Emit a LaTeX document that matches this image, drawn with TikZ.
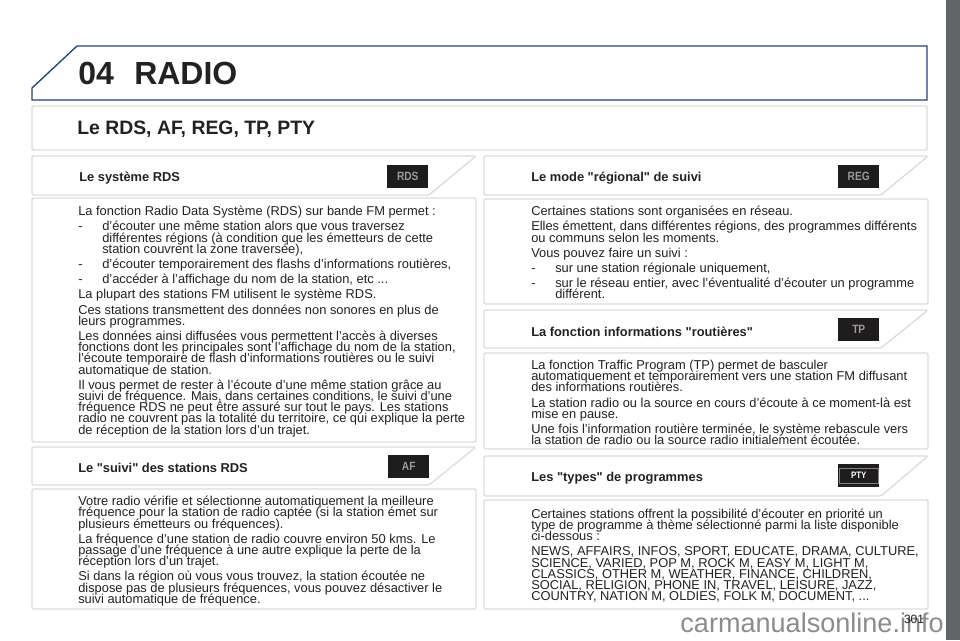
\documentclass[tikz,border=0pt]{standalone}
\usepackage{fontspec}
\setmainfont{Liberation Sans}[Ligatures=TeXOff]
\newfontfamily\badgefont{Liberation Sans}[FakeStretch=0.85]
\definecolor{panelline}{HTML}{DCDCDC}
\definecolor{navy}{HTML}{1F4480}
\definecolor{sidebar}{HTML}{636466}
\definecolor{ink}{HTML}{222222}
\definecolor{badgefill}{HTML}{1E1C1D}
\definecolor{badgetext}{HTML}{9A9A9A}
\newcommand{\tightlines}{\setlength{\lineskiplimit}{-20pt}}
\newcommand{\bodyfont}{\fontsize{9.65}{8.4}\selectfont\tightlines}
\tikzset{
 panel/.style={draw=panelline,line width=1pt,fill=white,rounded corners=1pt},
 bodytext/.style={anchor=north west,inner sep=0pt,text=ink,font=\bodyfont,align=left},
 subhead/.style={anchor=west,inner sep=0pt,text=ink,font=\fontsize{9.65}{10}\selectfont\bfseries},
 badge/.style={fill=badgefill,text=badgetext,font=\badgefont\fontsize{9}{10}\selectfont\bfseries,inner sep=0pt,minimum width=30.75pt,minimum height=17.25pt,anchor=north west},
}
\begin{document}
\begin{tikzpicture}[x=0.75pt,y=-0.75pt]
\useasboundingbox (0,0) rectangle (960,640);
\fill[white] (0,0) rectangle (960,640);
\fill[sidebar] (946,0) rectangle (960,640);
\draw[navy,line width=1pt,fill=white] (77,46) -- (927,46) -- (927,100) -- (32,100) -- (32,88) -- cycle;
\node[anchor=west,inner sep=0pt,text=ink,font=\fontsize{24}{26}\selectfont\bfseries] (num) at (78,73.5) {04};
\node[anchor=west,inner sep=0pt,text=ink,font=\fontsize{24}{26}\selectfont\bfseries] (title) at (134,73.5) {RADIO};
\draw[panel] (32,106) rectangle (927,150);
\node[anchor=west,inner sep=0pt,text=ink,font=\fontsize{14.55}{16}\selectfont\bfseries] (h) at (77,129.5) {Le RDS, AF, REG, TP, PTY};
% left column
\draw[panel] (32,156) -- (476,156) -- (429,195) -- (32,195) -- cycle;
\node[subhead] (a1) at (79,178) {Le système RDS};
\node[badge] (b1) at (387,165) {RDS};
\draw[panel] (32,198) rectangle (476,442);
\node[bodytext] (a2) at (78,206) {La fonction Radio Data Système (RDS) sur bande FM permet :\\[3pt]
\makebox[18pt][l]{-}d’écouter une même station alors que vous traversez\\
\hspace*{18pt}différentes régions (à condition que les émetteurs de cette\\
\hspace*{18pt}station couvrent la zone traversée),\\[3pt]
\makebox[18pt][l]{-}d’écouter temporairement des flashs d’informations routières,\\[3pt]
\makebox[18pt][l]{-}d’accéder à l’affichage du nom de la station, etc ...\\[3pt]
La plupart des stations FM utilisent le système RDS.\\[3pt]
Ces stations transmettent des données non sonores en plus de\\
leurs programmes.\\[3pt]
Les données ainsi diffusées vous permettent l’accès à diverses\\
fonctions dont les principales sont l’affichage du nom de la station,\\
l’écoute temporaire de flash d’informations routières ou le suivi\\
automatique de station.\\[3pt]
Il vous permet de rester à l’écoute d’une même station grâce au\\
suivi de fréquence. Mais, dans certaines conditions, le suivi d’une\\
fréquence RDS ne peut être assuré sur tout le pays. Les stations\\
radio ne couvrent pas la totalité du territoire, ce qui explique la perte\\
de réception de la station lors d’un trajet.};
\draw[panel] (32,447) -- (476,447) -- (429,485) -- (32,485) -- cycle;
\node[subhead] (a3) at (78,468) {Le "suivi" des stations RDS};
\node[badge] (b2) at (388,455) {AF};
\draw[panel] (32,489) rectangle (476,609);
\node[bodytext] (a4) at (78,496) {Votre radio vérifie et sélectionne automatiquement la meilleure\\
fréquence pour la station de radio captée (si la station émet sur\\
plusieurs émetteurs ou fréquences).\\[3pt]
La fréquence d’une station de radio couvre environ 50 kms. Le\\
passage d’une fréquence à une autre explique la perte de la\\
réception lors d’un trajet.\\[3pt]
Si dans la région où vous vous trouvez, la station écoutée ne\\
dispose pas de plusieurs fréquences, vous pouvez désactiver le\\
suivi automatique de fréquence.};
% right column
\draw[panel] (484,156) -- (928,156) -- (881,195) -- (484,195) -- cycle;
\node[subhead] (c1) at (531,178) {Le mode "régional" de suivi};
\node[badge] (d1) at (838,165) {REG};
\draw[panel] (484,199) rectangle (928,304);
\node[bodytext] (c2) at (531,206) {Certaines stations sont organisées en réseau.\\[3pt]
Elles émettent, dans différentes régions, des programmes différents\\
ou communs selon les moments.\\[3pt]
Vous pouvez faire un suivi :\\[3pt]
\makebox[18pt][l]{-}sur une station régionale uniquement,\\[3pt]
\makebox[18pt][l]{-}sur le réseau entier, avec l’éventualité d’écouter un programme\\
\hspace*{18pt}différent.};
\draw[panel] (484,310) -- (928,310) -- (881,348) -- (484,348) -- cycle;
\node[subhead] (c3) at (531,332) {La fonction informations "routières"};
\node[badge] (d2) at (838,318) {TP};
\draw[panel] (484,353) rectangle (928,449);
\node[bodytext] (c4) at (531,360) {La fonction Traffic Program (TP) permet de basculer\\
automatiquement et temporairement vers une station FM diffusant\\
des informations routières.\\[3pt]
La station radio ou la source en cours d’écoute à ce moment-là est\\
mise en pause.\\[3pt]
Une fois l’information routière terminée, le système rebascule vers\\
la station de radio ou la source radio initialement écoutée.};
\draw[panel] (484,456) -- (928,456) -- (881,496) -- (484,496) -- cycle;
\node[subhead] (c5) at (531,478) {Les "types" de programmes};
\node[badge,text=white,font=\badgefont\fontsize{7}{8}\selectfont\bfseries] (d3) at (838,464) {PTY};
\draw[draw=black!50,line width=0.6pt] ([shift={(1.2pt,3pt)}]d3.south west) rectangle ([shift={(-1.2pt,-3pt)}]d3.north east);
\draw[panel] (484,500) rectangle (928,609);
\node[bodytext] (c6) at (531,508.5) {Certaines stations offrent la possibilité d’écouter en priorité un\\
type de programme à thème sélectionné parmi la liste disponible\\
ci-dessous :\\[3pt]
NEWS, AFFAIRS, INFOS, SPORT, EDUCATE, DRAMA, CULTURE,\\
SCIENCE, VARIED, POP M, ROCK M, EASY M, LIGHT M,\\
CLASSICS, OTHER M, WEATHER, FINANCE, CHILDREN,\\
SOCIAL, RELIGION, PHONE IN, TRAVEL, LEISURE, JAZZ,\\
COUNTRY, NATION M, OLDIES, FOLK M, DOCUMENT, ...};
\node[anchor=base east,inner sep=0pt,text=black!45,font=\fontsize{20.3}{22}\selectfont] (wm) at (944,632) {carmanualsonline.info};
\node[anchor=base,inner sep=0pt,text=ink,font=\fontsize{9}{10}\selectfont] (pg) at (914,623) {301};
\end{tikzpicture}
\end{document}
